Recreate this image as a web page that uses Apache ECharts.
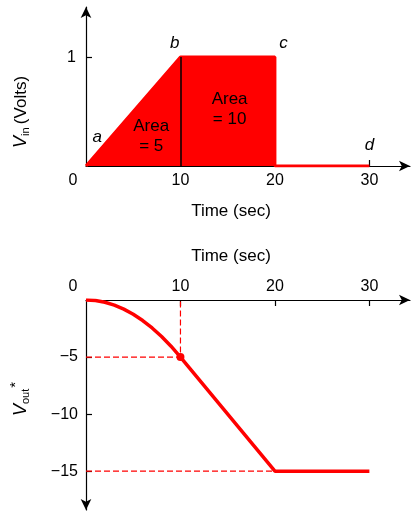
<!DOCTYPE html>
<html>
<head>
<meta charset="utf-8">
<script src="https://cdn.jsdelivr.net/npm/echarts@6/dist/echarts.min.js"></script>
<style>
  html, body { margin: 0; padding: 0; background: #fff; }
  #chart { width: 411px; height: 511px; }
</style>
</head>
<body>
<div id="chart"></div>
<script>
// input pulse V_in (volts) vs time (sec)
const vinTime = [0, 10, 20, 20, 30]
const vinValue = [0, 1, 1, 0, 0]

// integrator output V_out* vs time
const voutTime = [0, 1, 2, 3, 4, 5, 6, 7, 8, 9, 10, 20, 30]
const voutValue = [0, -0.05, -0.2, -0.45, -0.8, -1.25, -1.8, -2.45, -3.2, -4.05, -5, -15, -15]

const timeTicks = [0, 10, 20, 30]
const vinTicks = [1]
const voutTicks = [-5, -10, -15]

// point letters and area notes on the top plot
const letterNames = ['a', 'b', 'c', 'd']
const letterX = [1.2, 9.4, 20.9, 30]
const letterY = [0.26, 1.13, 1.13, 0.19]
const areaNotes = ['Area\n= 5', 'Area\n= 10']
const areaX = [6.9, 15.2]
const areaY = [0.27, 0.52]

// dashed guide lines on the bottom plot
const guideAT = [0, 10, 10]
const guideAV = [-5, -5, 0]
const guideBT = [0, 20]
const guideBV = [-15, -15]
const dotT = [10]
const dotV = [-5]

const RED = '#ff0000'
const FONT = '"Liberation Sans", Arial, sans-serif'

const pair = (xs, ys) => xs.map((x, i) => [x, ys[i]])
const minus = v => String(v).replace('-', '\u2212')

const axisLineStyle = { color: '#000', width: 1.2 }
const tickStyle = { show: true, inside: true, length: 6, lineStyle: { color: '#000', width: 1.2 } }
const labelStyle = { color: '#000', fontSize: 16, fontFamily: FONT }
const dashStyle = { color: RED, width: 1.2, type: [6, 3] }

const chart = echarts.init(document.getElementById('chart'))

const guide = data => ({
    type: 'line',
    xAxisIndex: 1,
    yAxisIndex: 1,
    symbol: 'none',
    silent: true,
    data,
    lineStyle: dashStyle,
    itemStyle: { color: RED },
    z: 1,
})

const option = {
    animation: false,
    textStyle: { fontFamily: FONT },
    grid: [
        { left: 86, right: 1, top: 7, height: 159 },
        { left: 86, right: 1, top: 300, height: 210 },
    ],
    xAxis: [
        {
            gridIndex: 0,
            type: 'value',
            min: 0,
            max: 34.3,
            splitLine: { show: false },
            axisLine: { onZero: false, lineStyle: axisLineStyle, symbol: ['none', 'arrow'], symbolSize: [8, 11] },
            axisTick: { ...tickStyle, customValues: [30] },
            axisLabel: {
                ...labelStyle,
                margin: 7,
                customValues: timeTicks,
                formatter: v => (v === 0 ? '{z|0}' : String(v)),
                rich: { z: { fontSize: 16, fontFamily: FONT, padding: [0, 26, 0, 0] } },
            },
        },
        {
            gridIndex: 1,
            type: 'value',
            position: 'top',
            min: 0,
            max: 34.3,
            splitLine: { show: false },
            axisLine: { onZero: false, lineStyle: axisLineStyle, symbol: ['none', 'arrow'], symbolSize: [8, 11] },
            axisTick: { ...tickStyle, customValues: [10, 20, 30] },
            axisLabel: {
                ...labelStyle,
                margin: 5,
                customValues: timeTicks,
                formatter: v => (v === 0 ? '{z|0}' : String(v)),
                rich: { z: { fontSize: 16, fontFamily: FONT, padding: [0, 26, 0, 0] } },
            },
        },
    ],
    yAxis: [
        {
            gridIndex: 0,
            type: 'value',
            min: 0,
            max: 1.46,
            splitLine: { show: false },
            axisLine: { onZero: false, lineStyle: axisLineStyle, symbol: ['none', 'arrow'], symbolSize: [8, 11] },
            axisTick: { ...tickStyle, customValues: vinTicks },
            axisLabel: { ...labelStyle, margin: 10, customValues: vinTicks },
        },
        {
            gridIndex: 1,
            type: 'value',
            min: -18.4,
            max: 0,
            splitLine: { show: false },
            axisLine: { onZero: false, lineStyle: axisLineStyle, symbol: ['arrow', 'none'], symbolSize: [8, 11] },
            axisTick: { ...tickStyle, customValues: voutTicks },
            axisLabel: { ...labelStyle, margin: 8, customValues: voutTicks, formatter: minus },
        },
    ],
    graphic: [
        {
            type: 'text',
            x: 231, y: 211,
            style: { text: 'Time (sec)', font: '17px ' + FONT, fill: '#000', align: 'center', verticalAlign: 'middle' },
        },
        {
            type: 'text',
            x: 231, y: 256,
            style: { text: 'Time (sec)', font: '17px ' + FONT, fill: '#000', align: 'center', verticalAlign: 'middle' },
        },
        {
            type: 'text',
            x: 21, y: 112,
            rotation: Math.PI / 2,
            style: {
                text: '{v|V}{s|in} {t|(Volts)}',
                align: 'center',
                verticalAlign: 'middle',
                rich: {
                    v: { fontSize: 18, fontStyle: 'italic', fontFamily: FONT, fill: '#000', lineHeight: 22 },
                    s: { fontSize: 11, fontFamily: FONT, fill: '#000', padding: [9, 0, 0, 0] },
                    t: { fontSize: 17, fontFamily: FONT, fill: '#000', lineHeight: 22 },
                },
            },
        },
        {
            type: 'text',
            x: 21, y: 399,
            rotation: Math.PI / 2,
            style: {
                text: '{v|V}{s|out}{p|*}',
                align: 'center',
                verticalAlign: 'middle',
                rich: {
                    v: { fontSize: 18, fontStyle: 'italic', fontFamily: FONT, fill: '#000', lineHeight: 22 },
                    s: { fontSize: 11, fontFamily: FONT, fill: '#000', padding: [9, 0, 0, 0] },
                    p: { fontSize: 15, fontFamily: FONT, fill: '#000', padding: [0, 0, 10, 1] },
                },
            },
        },
    ],
    series: [
        {
            name: 'Vin',
            type: 'line',
            xAxisIndex: 0,
            yAxisIndex: 0,
            symbol: 'none',
            silent: true,
            data: pair(vinTime, vinValue),
            lineStyle: { color: RED, width: 3 },
            itemStyle: { color: RED },
            areaStyle: { color: RED, opacity: 1 },
            markLine: {
                silent: true,
                symbol: 'none',
                label: { show: false },
                lineStyle: { color: '#000', width: 1.5, type: 'solid' },
                data: [[{ coord: [10, 0] }, { coord: [10, 1] }]],
            },
            z: 1,
        },
        {
            name: 'letters',
            type: 'scatter',
            xAxisIndex: 0,
            yAxisIndex: 0,
            symbolSize: 0,
            silent: true,
            data: letterNames.map((n, i) => ({ name: n, value: [letterX[i], letterY[i]] })),
            itemStyle: { opacity: 1 },
            label: {
                show: true,
                position: 'inside',
                formatter: p => p.name,
                color: '#000',
                fontSize: 17,
                fontStyle: 'italic',
                fontFamily: FONT,
            },
            z: 5,
        },
        {
            name: 'areas',
            type: 'scatter',
            xAxisIndex: 0,
            yAxisIndex: 0,
            symbolSize: 0,
            silent: true,
            data: areaNotes.map((n, i) => ({ name: n, value: [areaX[i], areaY[i]] })),
            itemStyle: { opacity: 1 },
            label: {
                show: true,
                position: 'inside',
                formatter: p => p.name,
                color: '#000',
                fontSize: 17,
                lineHeight: 20,
                align: 'center',
                fontFamily: FONT,
            },
            z: 5,
        },
        guide(pair(guideAT, guideAV)),
        guide(pair(guideBT, guideBV)),
        {
            name: 'Vout',
            type: 'line',
            xAxisIndex: 1,
            yAxisIndex: 1,
            symbol: 'none',
            silent: true,
            data: pair(voutTime, voutValue),
            lineStyle: { color: RED, width: 3.5 },
            itemStyle: { color: RED },
            z: 3,
        },
        {
            name: 'dot',
            type: 'scatter',
            xAxisIndex: 1,
            yAxisIndex: 1,
            symbol: 'circle',
            symbolSize: 8,
            silent: true,
            data: pair(dotT, dotV),
            itemStyle: { color: RED, opacity: 1 },
            z: 4,
        },
    ],
}

chart.setOption(option)
</script>
</body>
</html>
